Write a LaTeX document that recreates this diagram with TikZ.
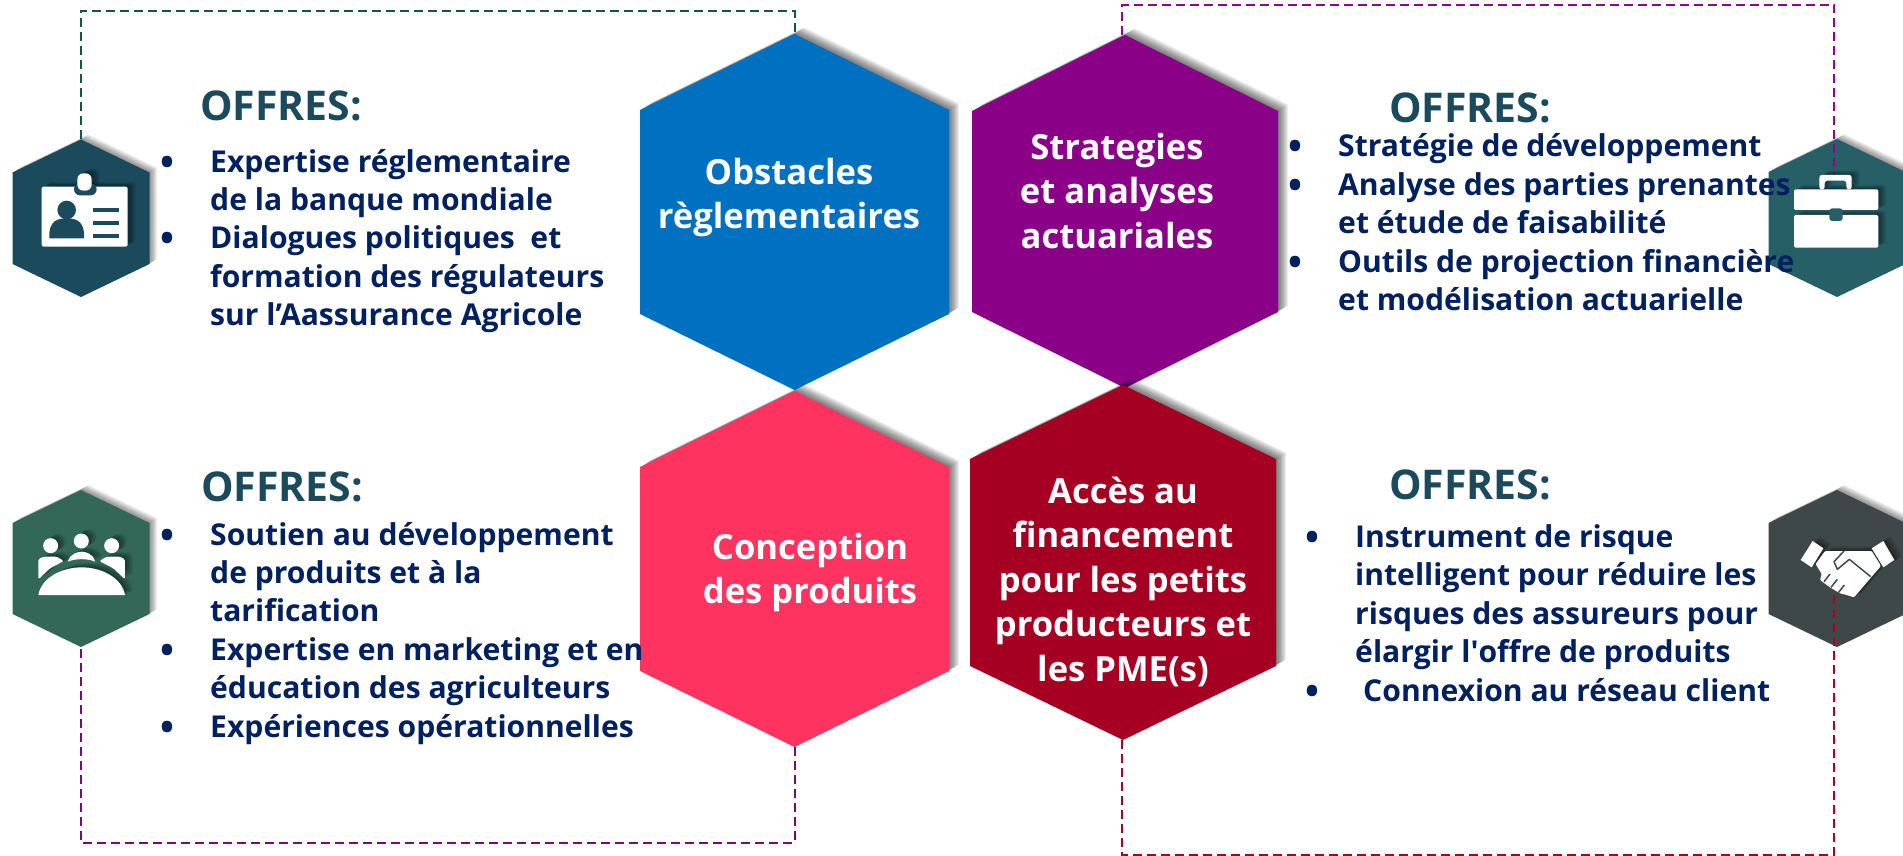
\documentclass[tikz,border=0pt]{standalone}
\usepackage{fontspec}
\setmainfont{Open Sans}
\newfontfamily\plainapos{Open Sans}
\definecolor{navy}{HTML}{002060}
\definecolor{teal}{HTML}{1B4A5C}
\definecolor{cBlue}{HTML}{0070C0}
\definecolor{cPurple}{HTML}{8A0087}
\definecolor{cPink}{HTML}{FF3360}
\definecolor{cRed}{HTML}{A50021}
\definecolor{iBadge}{HTML}{1B4A5C}
\definecolor{iCase}{HTML}{275F66}
\definecolor{iGroup}{HTML}{336859}
\definecolor{iHand}{HTML}{3F4849}
\definecolor{dGreen}{HTML}{0F5A38}
\definecolor{dPurple}{HTML}{960090}
\definecolor{dViolet}{HTML}{701070}
\definecolor{dRed}{HTML}{A80028}
\tikzset{
  dashline/.style={line width=2pt,dash pattern=on 9pt off 5pt},
  offretitle/.style={anchor=base west,inner sep=0pt,text=teal,font=\bfseries\fontsize{41}{44}\selectfont},
  offrelist/.style={anchor=base west,inner sep=0pt,text=navy,font=\bfseries\fontsize{30.1}{38.4}\selectfont},
  hexlabel/.style={anchor=base,inner sep=0pt,text=white,font=\bfseries\fontsize{34.6}{44.6}\selectfont},
  glyph/.style={fill=white},
  ink/.style={fill=black},
  inkline/.style={draw=black,line width=1.5pt},
  icon/.style={x=0.33333pt,y=-0.33333pt}
}
% name, centre x, top, bottom, half width, shoulder, colour, shadow depth
\newcommand\hexa[8]{%
  \foreach \k in {#8,...,1}{%
    \fill[black,opacity=.055,xshift=\k*0.85pt,yshift=\k*0.55pt]
      (#2,#3) -- (#2+#5,#3+#6) -- (#2+#5,#4-#6) -- (#2,#4) -- (#2-#5,#4-#6) -- (#2-#5,#3+#6) -- cycle;
  }
  \fill[#7] (#2,#3) -- (#2+#5,#3+#6) -- (#2+#5,#4-#6) -- (#2,#4) -- (#2-#5,#4-#6) -- (#2-#5,#3+#6) -- cycle;
  \node[inner sep=0pt,minimum width=2*#5*1pt,minimum height=(#4-#3)*1pt] (#1) at (#2,{(#3+#4)/2}) {};
}
% soft shadow then the white glyph; #1 = macro with the glyph paths, #2 = ink colour
\newcommand\softglyph[2]{%
  \foreach \k in {9,...,1}{%
    \begin{scope}[xshift=\k*0.9pt,yshift=\k*0.5pt,
        glyph/.style={fill=black,opacity=.055},ink/.style={opacity=0},inkline/.style={opacity=0}]
      #1
    \end{scope}
  }
  \begin{scope}[ink/.style={fill=#2},inkline/.style={draw=#2,line width=1.5pt}]
    #1
  \end{scope}
}
\newcommand\itm{\makebox[50pt][l]{\makebox[14pt][c]{\raisebox{-3pt}{\fontsize{37}{37}\selectfont •}}}}
\newcommand\nob{\hspace*{50pt}}
\newcommand\badge{%
  \fill[glyph,rounded corners=2pt] (125,200) rectangle (383,380);
  \fill[ink,rounded corners=6pt] (222,190) rectangle (290,226);
  \fill[glyph,rounded corners=6pt] (232,160) rectangle (275,212);
  \fill[ink] (200,270) circle[radius=9.3pt];
  \fill[ink] (148,355) .. controls (145,300) and (175,295) .. (200,295) .. controls (225,295) and (255,300) .. (252,355) -- cycle;
  \fill[ink] (278,264) rectangle (358,276);
  \fill[ink] (278,304) rectangle (358,316);
  \fill[ink] (278,342) rectangle (358,354);
}
\newcommand\brief{%
  \fill[glyph,rounded corners=2pt] (132,208) rectangle (385,270);
  \fill[glyph,rounded corners=2pt] (132,285) rectangle (385,383);
  \fill[glyph,rounded corners=2.5pt] (208,208) -- (208,165) -- (305,165) -- (305,208) -- (289,208) -- (289,182) -- (224,182) -- (224,208) -- cycle;
  \fill[ink,rounded corners=3pt] (238,265) rectangle (278,303);
}
\newcommand\people{%
  \fill[glyph] (152,197) circle[radius=7.5pt];
  \fill[glyph] (244,183) circle[radius=7.5pt];
  \fill[glyph] (335,197) circle[radius=7.5pt];
  \fill[glyph,rounded corners=1.5pt] (115,298) -- (115,238) -- (130,230) -- (170,230) -- (192,243) -- (150,265) -- cycle;
  \fill[glyph,rounded corners=1.5pt] (375,298) -- (375,238) -- (360,230) -- (320,230) -- (298,243) -- (340,265) -- cycle;
  \fill[glyph] (204,245) .. controls (210,220) and (235,215) .. (245,215) .. controls (255,215) and (280,220) .. (285,245) .. controls (265,235) and (225,235) .. (204,245) -- cycle;
  \fill[glyph] (115,345) .. controls (125,290) and (190,262) .. (245,262) .. controls (300,262) and (365,290) .. (375,345) -- cycle;
}
\newcommand\shake{%
  \fill[glyph] (152,240) -- (188,183) -- (220,205) -- (185,262) -- cycle;
  \fill[glyph] (365,205) -- (400,183) -- (433,240) -- (400,262) -- cycle;
  \fill[glyph,rounded corners=1pt] (197,252) -- (225,213) -- (365,213) -- (393,258) -- (372,282) -- (312,352) -- (290,345) -- (270,340) -- (240,322) -- (210,300) -- (215,282) -- cycle;
  \draw[inkline,line join=round] (282,213) -- (252,245) -- (262,268) -- (298,238) -- (362,290);
  \draw[inkline] (240,282) -- (222,305);
  \draw[inkline] (262,298) -- (243,322);
  \draw[inkline] (283,315) -- (265,338);
}
\begin{document}
\begin{tikzpicture}[x=1pt,y=-1pt]
\useasboundingbox (0,0) rectangle (1903,856);
% main hexagons
\hexa{A}{794.5}{34}{390}{154.5}{76}{cBlue}{12}
\hexa{B}{1125}{35}{388}{153}{76}{cPurple}{12}
\hexa{C}{794.5}{391}{747}{154.5}{76}{cPink}{12}
\hexa{D}{1123}{385}{740}{153}{74}{cRed}{12}
% icon hexagons
\hexa{Ia}{81}{139.5}{297}{68.5}{33}{iBadge}{9}
\hexa{Ib}{1837}{139}{297}{68.5}{33}{iCase}{9}
\hexa{Ic}{81}{490}{647}{68.5}{33}{iGroup}{9}
\hexa{Id}{1837}{490}{647}{68.5}{33}{iHand}{9}
% connectors
\coordinate (gTop) at (0,10.7);
\coordinate (pTop) at (0,5);
\coordinate (vBot) at (0,843);
\coordinate (rBot) at (0,855);
\coordinate (pEnd) at (1834,188);
\coordinate (rEnd) at (1833.5,575);
\coordinate (pStart) at (1121.5,35);
\coordinate (rStart) at (1121.5,740);
\draw[dashline,dGreen] (Ia.north) |- (gTop -| A.north) -- (A.north);
\draw[dashline,dPurple] (pStart) |- (pTop -| pEnd) -- (pEnd);
\draw[dashline,dViolet] (C.south) |- (vBot -| Ic.south) -- (Ic.south);
\draw[dashline,dRed] (rStart) |- (rBot -| rEnd) -- (rEnd);
% icon glyphs
\begin{scope}[shift={(0,120)},icon]\softglyph{\badge}{iBadge}\end{scope}
\begin{scope}[shift={(1750,120)},icon]\softglyph{\brief}{iCase}\end{scope}
\begin{scope}[shift={(0,480)},icon]\softglyph{\people}{iGroup}\end{scope}
\begin{scope}[shift={(1750,480)},icon]\softglyph{\shake}{iHand}\end{scope}
% hexagon labels
\node[hexlabel] (la) at (789,184) {\begin{tabular}[t]{@{}c@{}}Obstacles\\règlementaires\end{tabular}};
\node[hexlabel] (lb) at (1117,159) {\begin{tabular}[t]{@{}c@{}}Strategies\\et analyses\\actuariales\end{tabular}};
\node[hexlabel] (lc) at (810,559) {\begin{tabular}[t]{@{}c@{}}Conception\\des produits\end{tabular}};
\node[hexlabel] (ld) at (1123,503) {\begin{tabular}[t]{@{}c@{}}Accès au\\financement\\pour les petits\\producteurs et\\les PME(s)\end{tabular}};
% titles
\node[offretitle] (ta) at (200,121) {OFFRES:};
\node[offretitle] (tb) at (1389,123) {OFFRES:};
\node[offretitle] (tc) at (201,501) {OFFRES:};
\node[offretitle] (td) at (1389,499) {OFFRES:};
% lists
\node[offrelist] (oa) at (160,172) {\begin{tabular}[t]{@{}l@{}}
\itm Expertise réglementaire\\
\nob de la banque mondiale\\
\itm Dialogues politiques\ \ et\\
\nob formation des régulateurs\\
\nob sur l’Aassurance Agricole
\end{tabular}};
\node[offrelist] (ob) at (1288,157) {\begin{tabular}[t]{@{}l@{}}
\itm Stratégie de développement\\
\itm Analyse des parties prenantes\\
\nob et étude de faisabilité\\
\itm Outils de projection financière\\
\nob et modélisation actuarielle
\end{tabular}};
\node[offrelist] (oc) at (160,545) {\begin{tabular}[t]{@{}l@{}}
\itm Soutien au développement\\
\nob de produits et à la\\
\nob tarification\\
\itm Expertise en marketing et en\\
\nob éducation des agriculteurs\\
\itm Expériences opérationnelles
\end{tabular}};
\node[offrelist] (od) at (1305,547.5) {\begin{tabular}[t]{@{}l@{}}
\itm Instrument de risque\\
\nob intelligent pour réduire les\\
\nob risques des assureurs pour\\
\nob élargir l{\plainapos\bfseries '}offre de produits\\
\itm\hspace*{8pt}Connexion au réseau client
\end{tabular}};
\end{tikzpicture}
\end{document}
